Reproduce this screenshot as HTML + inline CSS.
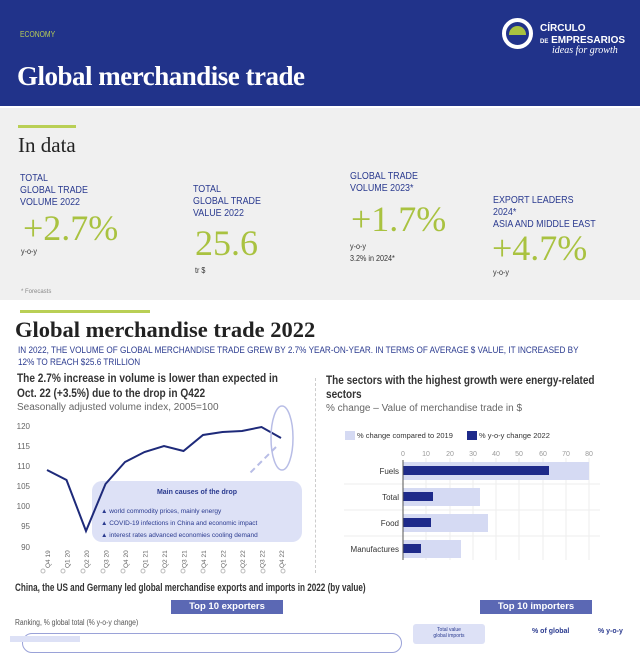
<!DOCTYPE html>
<html><head><meta charset="utf-8"><style>
*{margin:0;padding:0;box-sizing:border-box}
body{width:640px;height:640px;overflow:hidden;background:#fff;font-family:"Liberation Sans",sans-serif;position:relative}
.a{position:absolute;white-space:nowrap}
.n{transform-origin:0 0}
.lbl{color:#2a3a8f;font-size:10.5px;line-height:12px;transform:scaleX(0.85);transform-origin:0 0}
.big{color:#a9c240;font-family:"Liberation Serif",serif;font-size:36px;line-height:36px}
.sm{color:#333;font-size:8px;transform:scaleX(0.9);transform-origin:0 0}
</style></head><body>
<div class="a" style="left:0;top:0;width:640px;height:106px;background:#21338a"></div>
<div class="a" style="left:20px;top:30px;color:#b9cf55;font-size:8px;transform:scaleX(0.85);transform-origin:0 0">ECONOMY</div>
<div class="a" style="left:17px;top:61px;color:#fff;font-family:'Liberation Serif',serif;font-weight:bold;font-size:27px;letter-spacing:-0.5px">Global merchandise trade</div>
<div class="a" style="left:502px;top:18px;width:31px;height:31px;border:4px solid #fff;border-radius:50%"></div>
<div class="a" style="left:509px;top:26px;width:17px;height:9px;background:#a9c240;border-radius:9px 9px 0 0"></div>
<div class="a" style="left:540px;top:23px;color:#fff;font-size:10px;line-height:12px;font-weight:bold">CÍRCULO<br><span style="font-size:6px">DE</span> EMPRESARIOS</div>
<div class="a" style="left:552px;top:45px;color:#fff;font-family:'Liberation Serif',serif;font-style:italic;font-size:10px">ideas for growth</div>

<div class="a" style="left:0;top:108px;width:640px;height:192px;background:#f0f0f0"></div>
<div class="a" style="left:18px;top:125px;width:58px;height:3px;background:#b9cf55"></div>
<div class="a" style="left:18px;top:133px;font-family:'Liberation Serif',serif;font-size:21px;color:#222">In data</div>
<div class="a lbl" style="left:20px;top:172px">TOTAL<br>GLOBAL TRADE<br>VOLUME 2022</div>
<div class="a big" style="left:23px;top:210px">+2.7%</div>
<div class="a sm" style="left:21px;top:247px">y-o-y</div>
<div class="a lbl" style="left:193px;top:183px">TOTAL<br>GLOBAL TRADE<br>VALUE 2022</div>
<div class="a big" style="left:195px;top:225px">25.6</div>
<div class="a sm" style="left:195px;top:266px">tr $</div>
<div class="a lbl" style="left:350px;top:170px">GLOBAL TRADE<br>VOLUME 2023*</div>
<div class="a big" style="left:351px;top:201px">+1.7%</div>
<div class="a sm" style="left:350px;top:241px;line-height:12px">y-o-y<br>3.2% in 2024*</div>
<div class="a lbl" style="left:493px;top:194px">EXPORT LEADERS<br>2024*<br>ASIA AND MIDDLE EAST</div>
<div class="a big" style="left:492px;top:230px">+4.7%</div>
<div class="a sm" style="left:493px;top:268px">y-o-y</div>
<div class="a" style="left:21px;top:289px;font-size:6px;color:#888">* Forecasts</div>

<div class="a" style="left:20px;top:310px;width:130px;height:3px;background:#b9cf55"></div>
<div class="a" style="left:15px;top:317px;font-family:'Liberation Serif',serif;font-weight:bold;font-size:22.5px;color:#222">Global merchandise trade 2022</div>
<div class="a n" style="left:18px;top:345px;font-size:9.5px;line-height:12px;color:#2a3a8f;white-space:normal;width:655px;transform:scaleX(0.86)">IN 2022, THE VOLUME OF GLOBAL MERCHANDISE TRADE GREW BY 2.7% YEAR-ON-YEAR. IN TERMS OF AVERAGE $ VALUE, IT INCREASED BY 12% TO REACH $25.6 TRILLION</div>

<div class="a n" style="left:17px;top:372px;font-size:11.5px;font-weight:bold;color:#333;line-height:15px;transform:scaleX(0.88)">The 2.7% increase in volume is lower than expected in<br>Oct. 22 (+3.5%) due to the drop in Q422</div>
<div class="a" style="left:17px;top:402px;font-size:10px;color:#666">Seasonally adjusted volume index, 2005=100</div>
<div class="a n" style="left:326px;top:374px;font-size:11.5px;font-weight:bold;color:#333;line-height:14px;transform:scaleX(0.87)">The sectors with the highest growth were energy-related<br>sectors</div>
<div class="a" style="left:326px;top:403px;font-size:10px;color:#666">% change – Value of merchandise trade in $</div>
<div class="a" style="left:315px;top:378px;height:195px;border-left:1px dashed #ccc"></div>

<svg class="a" style="left:0;top:0" width="640" height="640">
<g font-family="Liberation Sans" font-size="8" fill="#666" text-anchor="end">
<text x="30" y="429">120</text><text x="30" y="449">115</text><text x="30" y="469">110</text><text x="30" y="489">105</text><text x="30" y="509">100</text><text x="30" y="529">95</text><text x="30" y="550">90</text>
</g>
<g font-family="Liberation Sans" font-size="6.5" fill="#666">
<text transform="translate(50,568) rotate(-90)">Q4 19</text><text transform="translate(69.5,568) rotate(-90)">Q1 20</text><text transform="translate(89,568) rotate(-90)">Q2 20</text><text transform="translate(108.5,568) rotate(-90)">Q3 20</text><text transform="translate(128,568) rotate(-90)">Q4 20</text><text transform="translate(147.5,568) rotate(-90)">Q1 21</text><text transform="translate(167,568) rotate(-90)">Q2 21</text><text transform="translate(186.5,568) rotate(-90)">Q3 21</text><text transform="translate(206,568) rotate(-90)">Q4 21</text><text transform="translate(225.5,568) rotate(-90)">Q1 22</text><text transform="translate(245,568) rotate(-90)">Q2 22</text><text transform="translate(264.5,568) rotate(-90)">Q3 22</text><text transform="translate(284,568) rotate(-90)">Q4 22</text>
</g>
<rect x="92" y="481" width="210" height="61" rx="10" fill="#dde1f6"/>
<polyline fill="none" stroke="#1e2a7a" stroke-width="2" points="47,470 66.5,480 86,531 105.5,484 125,462 144.5,452 164,446 183.5,451 203,435 222.5,432 242,431 261.5,427 281,438"/>
<ellipse cx="282" cy="438" rx="11" ry="32" fill="none" stroke="#b8bde6" stroke-width="1.5"/>
<line x1="276" y1="447" x2="250" y2="473" stroke="#b8bde6" stroke-width="2" stroke-dasharray="6,4"/>
<text x="197" y="494" font-size="7" font-weight="bold" fill="#2a3a8f" text-anchor="middle" font-family="Liberation Sans">Main causes of the drop</text>
<g font-size="6.5" fill="#2a3a8f" font-family="Liberation Sans">
<text x="101" y="513">▲ world commodity prices, mainly energy</text>
<text x="101" y="525">▲ COVID-19 infections in China and economic impact</text>
<text x="101" y="537">▲ interest rates advanced economies cooling demand</text>
</g>

<rect x="345" y="431" width="10" height="9" fill="#d5daf3"/>
<text x="357" y="438" font-size="7.5" fill="#333" font-family="Liberation Sans">% change compared to 2019</text>
<rect x="467" y="431" width="10" height="9" fill="#1e2a8a"/>
<text x="479" y="438" font-size="7.5" fill="#333" font-family="Liberation Sans">% y-o-y change 2022</text>
<g stroke="#eee"><line x1="426" y1="458" x2="426" y2="560"/><line x1="450" y1="458" x2="450" y2="560"/><line x1="473" y1="458" x2="473" y2="560"/><line x1="496" y1="458" x2="496" y2="560"/><line x1="519" y1="458" x2="519" y2="560"/><line x1="543" y1="458" x2="543" y2="560"/><line x1="566" y1="458" x2="566" y2="560"/><line x1="589" y1="458" x2="589" y2="560"/>
<line x1="344" y1="484" x2="600" y2="484"/><line x1="344" y1="510" x2="600" y2="510"/><line x1="344" y1="536" x2="600" y2="536"/></g>
<g font-size="7" fill="#999" text-anchor="middle" font-family="Liberation Sans"><text x="403" y="456">0</text><text x="426" y="456">10</text><text x="450" y="456">20</text><text x="473" y="456">30</text><text x="496" y="456">40</text><text x="519" y="456">50</text><text x="543" y="456">60</text><text x="566" y="456">70</text><text x="589" y="456">80</text></g>
<rect x="403" y="462" width="186" height="18" fill="#d5daf3"/><rect x="403" y="466" width="146" height="9" fill="#1e2a8a"/>
<rect x="403" y="488" width="77" height="18" fill="#d5daf3"/><rect x="403" y="492" width="30" height="9" fill="#1e2a8a"/>
<rect x="403" y="514" width="85" height="18" fill="#d5daf3"/><rect x="403" y="518" width="28" height="9" fill="#1e2a8a"/>
<rect x="403" y="540" width="58" height="18" fill="#d5daf3"/><rect x="403" y="544" width="18" height="9" fill="#1e2a8a"/>
<line x1="403" y1="460" x2="403" y2="560" stroke="#555"/>
<g font-size="8" fill="#333" text-anchor="end" font-family="Liberation Sans"><text x="399" y="474">Fuels</text><text x="399" y="500">Total</text><text x="399" y="526">Food</text><text x="399" y="552">Manufactures</text></g>
<g fill="none" stroke="#bbb"><circle cx="43" cy="571" r="2"/><circle cx="63" cy="571" r="2"/><circle cx="83" cy="571" r="2"/><circle cx="103" cy="571" r="2"/><circle cx="123" cy="571" r="2"/><circle cx="143" cy="571" r="2"/><circle cx="163" cy="571" r="2"/><circle cx="183" cy="571" r="2"/><circle cx="203" cy="571" r="2"/><circle cx="223" cy="571" r="2"/><circle cx="243" cy="571" r="2"/><circle cx="263" cy="571" r="2"/><circle cx="283" cy="571" r="2"/></g>
</svg>

<div class="a n" style="left:15px;top:582px;font-size:11px;color:#333;font-weight:bold;transform:scaleX(0.74)">China, the US and Germany led global merchandise exports and imports in 2022 (by value)</div>
<div class="a" style="left:171px;top:600px;width:112px;height:14px;background:#5b68b4;color:#fff;font-size:9.5px;font-weight:bold;text-align:center;line-height:14px">Top 10 exporters</div>
<div class="a" style="left:480px;top:600px;width:112px;height:14px;background:#5b68b4;color:#fff;font-size:9.5px;font-weight:bold;text-align:center;line-height:14px">Top 10 importers</div>
<div class="a n" style="left:15px;top:618px;font-size:8px;color:#555;transform:scaleX(0.85)">Ranking, % global total (% y-o-y change)</div>
<div class="a" style="left:22px;top:633px;width:380px;height:20px;border:1px solid #9aa2d8;border-radius:18px"></div>
<div class="a" style="left:10px;top:636px;width:70px;height:6px;background:#dde1f6"></div>
<div class="a" style="left:413px;top:624px;width:72px;height:20px;background:#dde1f6;border-radius:3px;font-size:5px;color:#2a3a8f;text-align:center;padding-top:3px">Total value<br>global imports</div>
<div class="a" style="left:532px;top:628px;font-size:7px;font-weight:bold;color:#2a3a8f">% of global</div>
<div class="a" style="left:598px;top:628px;font-size:7px;font-weight:bold;color:#2a3a8f">% y-o-y</div>
</body></html>
